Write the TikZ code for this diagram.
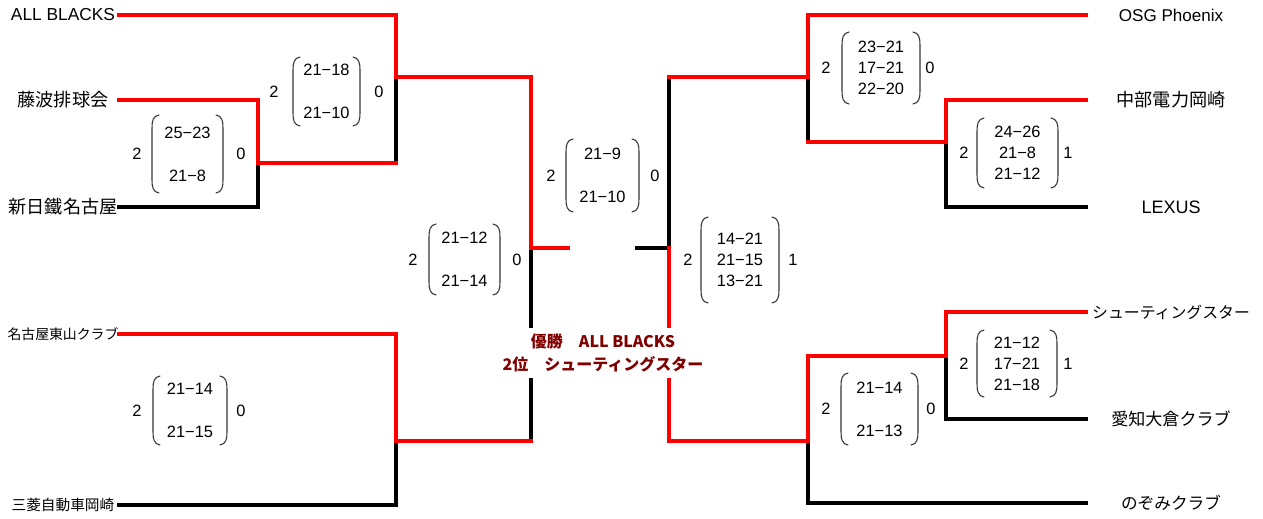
\documentclass[tikz,border=0pt]{standalone}
\usepackage{fontspec}
\setmainfont{Liberation Sans}
\newfontfamily\jp{Noto Sans CJK JP}
\definecolor{wred}{RGB}{255,0,0}
\definecolor{champ}{RGB}{128,0,0}
\tikzset{
  win/.style={draw=wred,line width=3pt,line cap=rect},
  lose/.style={draw=black,line width=3pt,line cap=rect},
  paren/.style={draw=black!80,line width=0.8pt,line cap=round},
  scoretxt/.style={inner sep=0pt,align=center,font=\fontsize{12.3}{15.75}\selectfont},
  numtxt/.style={inner sep=0pt,font=\fontsize{12.3}{14}\selectfont},
  lname/.style={inner sep=0pt,anchor=center},
  rname/.style={inner sep=0pt,anchor=center},
}
% #1 x1, #2 x2, #3 y1, #4 y2, #5 left num x, #6 right num x, #7 left, #8 right, #9 scores
\newcommand\scoreset[9]{%
  \node[scoretxt] (sc#1x#3) at ({(#1+#2)/2},{(#3+#4)/2}) {#9};
  \node[numtxt] (ln#1x#3) at (#5,{(#3+#4)/2}) {#7};
  \node[numtxt] (rn#1x#3) at (#6,{(#3+#4)/2}) {#8};
  \draw[paren] (#1+7,#3) .. controls (#1+1,#3+1) and (#1,#3+6) .. (#1,#3+13)
     -- (#1,#4-13) .. controls (#1,#4-6) and (#1+1,#4-1) .. (#1+7,#4);
  \draw[paren] (#2-7,#3) .. controls (#2-1,#3+1) and (#2,#3+6) .. (#2,#3+13)
     -- (#2,#4-13) .. controls (#2,#4-6) and (#2-1,#4-1) .. (#2-7,#4);
}
\begin{document}
\begin{tikzpicture}[x=0.75pt,y=-0.75pt]
\useasboundingbox (0,0) rectangle (1263,518);
% ---- left names
\node[lname] (nAB) at (63,15) {\fontsize{13}{15}\selectfont ALL BLACKS};
\node[lname] (nFJ) at (63,100) {\jp\fontsize{13.6}{15}\selectfont 藤波排球会};
\node[lname] (nSN) at (63,207) {\jp\fontsize{13.6}{15}\selectfont 新日鐵名古屋};
\node[lname] (nHG) at (63,334) {\jp\fontsize{10.4}{12}\selectfont 名古屋東山クラブ};
\node[lname] (nMB) at (63,505) {\jp\fontsize{11}{12}\selectfont 三菱自動車岡崎};
% ---- right names
\node[rname] (nOS) at (1171,15) {\fontsize{12.8}{15}\selectfont OSG Phoenix};
\node[rname] (nCB) at (1171,100) {\jp\fontsize{13.6}{15}\selectfont 中部電力岡崎};
\node[rname] (nLX) at (1171,207) {\fontsize{13.5}{15}\selectfont LEXUS};
\node[rname] (nST) at (1171,312) {\jp\fontsize{11.9}{14}\selectfont シューティングスター};
\node[rname] (nAK) at (1171,419) {\jp\fontsize{12.8}{14}\selectfont 愛知大倉クラブ};
\node[rname] (nNZ) at (1171,503) {\jp\fontsize{12.5}{14}\selectfont のぞみクラブ};
% ---- line ends and junctions
\coordinate (eAB) at (119,15);
\coordinate (eFJ) at (119,100);
\coordinate (eSN) at (119,207);
\coordinate (eHG) at (119,334);
\coordinate (eMB) at (119,505);
\coordinate (j1) at (258,163);
\coordinate (j2) at (396,77);
\coordinate (k2) at (396,163);
\coordinate (j3) at (396,441);
\coordinate (j4) at (531,248);
\coordinate (k4) at (531,441);
\coordinate (f1) at (568,248);
\coordinate (eOS) at (1086,15);
\coordinate (eCB) at (1086,100);
\coordinate (eLX) at (1086,207);
\coordinate (eST) at (1086,312);
\coordinate (eAK) at (1086,419);
\coordinate (eNZ) at (1086,503);
\coordinate (j7) at (808,77);
\coordinate (k7) at (808,142);
\coordinate (j8) at (946,142);
\coordinate (j9) at (946,356);
\coordinate (j10) at (808,441);
\coordinate (j6) at (669,248);
\coordinate (k5) at (669,77);
\coordinate (f2) at (637,248);
% ---- left bracket
\draw[lose] (eSN) -| (j1);
\draw[lose] (j2) -- (k2);
\draw[win] (eAB) -| (j2);
\draw[win] (eFJ) -| (j1);
\draw[win] (j1) -- (k2);
\draw[lose] (eMB) -| (j3);
\draw[lose] (j4) -- (k4);
\draw[win] (eHG) -| (j3);
\draw[win] (j3) -- (k4);
\draw[win] (j2) -| (j4) -- (f1);
% ---- right bracket
\draw[lose] (eLX) -| (j8);
\draw[lose] (j7) -- (k7);
\draw[win] (eOS) -| (j7);
\draw[win] (eCB) -| (j8);
\draw[win] (j8) -- (k7);
\draw[lose] (eAK) -| (j9);
\draw[lose] (eNZ) -| (j10);
\draw[win] (eST) -| (j9);
\draw[win] (j9) -| (j10);
\draw[lose] (k5) -- (j6) -- (f2);
\draw[win] (j7) -- (k5);
\draw[win] (j10) -| (j6);
% ---- scores
\scoreset{152}{223}{115}{193}{137}{241}{2}{0}{25−23\\[16.5pt]21−8}
\scoreset{293}{360}{57}{126}{274}{379}{2}{0}{21−18\\[16.5pt]21−10}
\scoreset{153}{227}{376}{445}{137}{241}{2}{0}{21−14\\[16.5pt]21−15}
\scoreset{429}{500}{224}{295}{413}{517}{2}{0}{21−12\\[16.5pt]21−14}
\scoreset{566}{639}{139}{212}{551}{655}{2}{0}{21−9\\[16.5pt]21−10}
\scoreset{701}{779}{217}{303}{688}{793}{2}{1}{14−21\\21−15\\13−21}
\scoreset{842}{920}{32}{104}{826}{930}{2}{0}{23−21\\17−21\\22−20}
\scoreset{977}{1058}{118}{188}{964}{1068}{2}{1}{24−26\\21−8\\21−12}
\scoreset{977}{1057}{330}{397}{964}{1068}{2}{1}{21−12\\17−21\\21−18}
\scoreset{841}{918}{373}{445}{826}{931}{2}{0}{21−14\\[16.5pt]21−13}
% ---- result
\node[fill=white,inner xsep=1pt,inner ysep=0pt,minimum height=37pt,align=center,
  text=champ,font=\jp\bfseries\fontsize{12}{17.25}\selectfont] (res) at (603,353)
  {優勝\hspace{1em}ALL BLACKS\\2位\hspace{1em}シューティングスター};
\end{tikzpicture}
\end{document}
